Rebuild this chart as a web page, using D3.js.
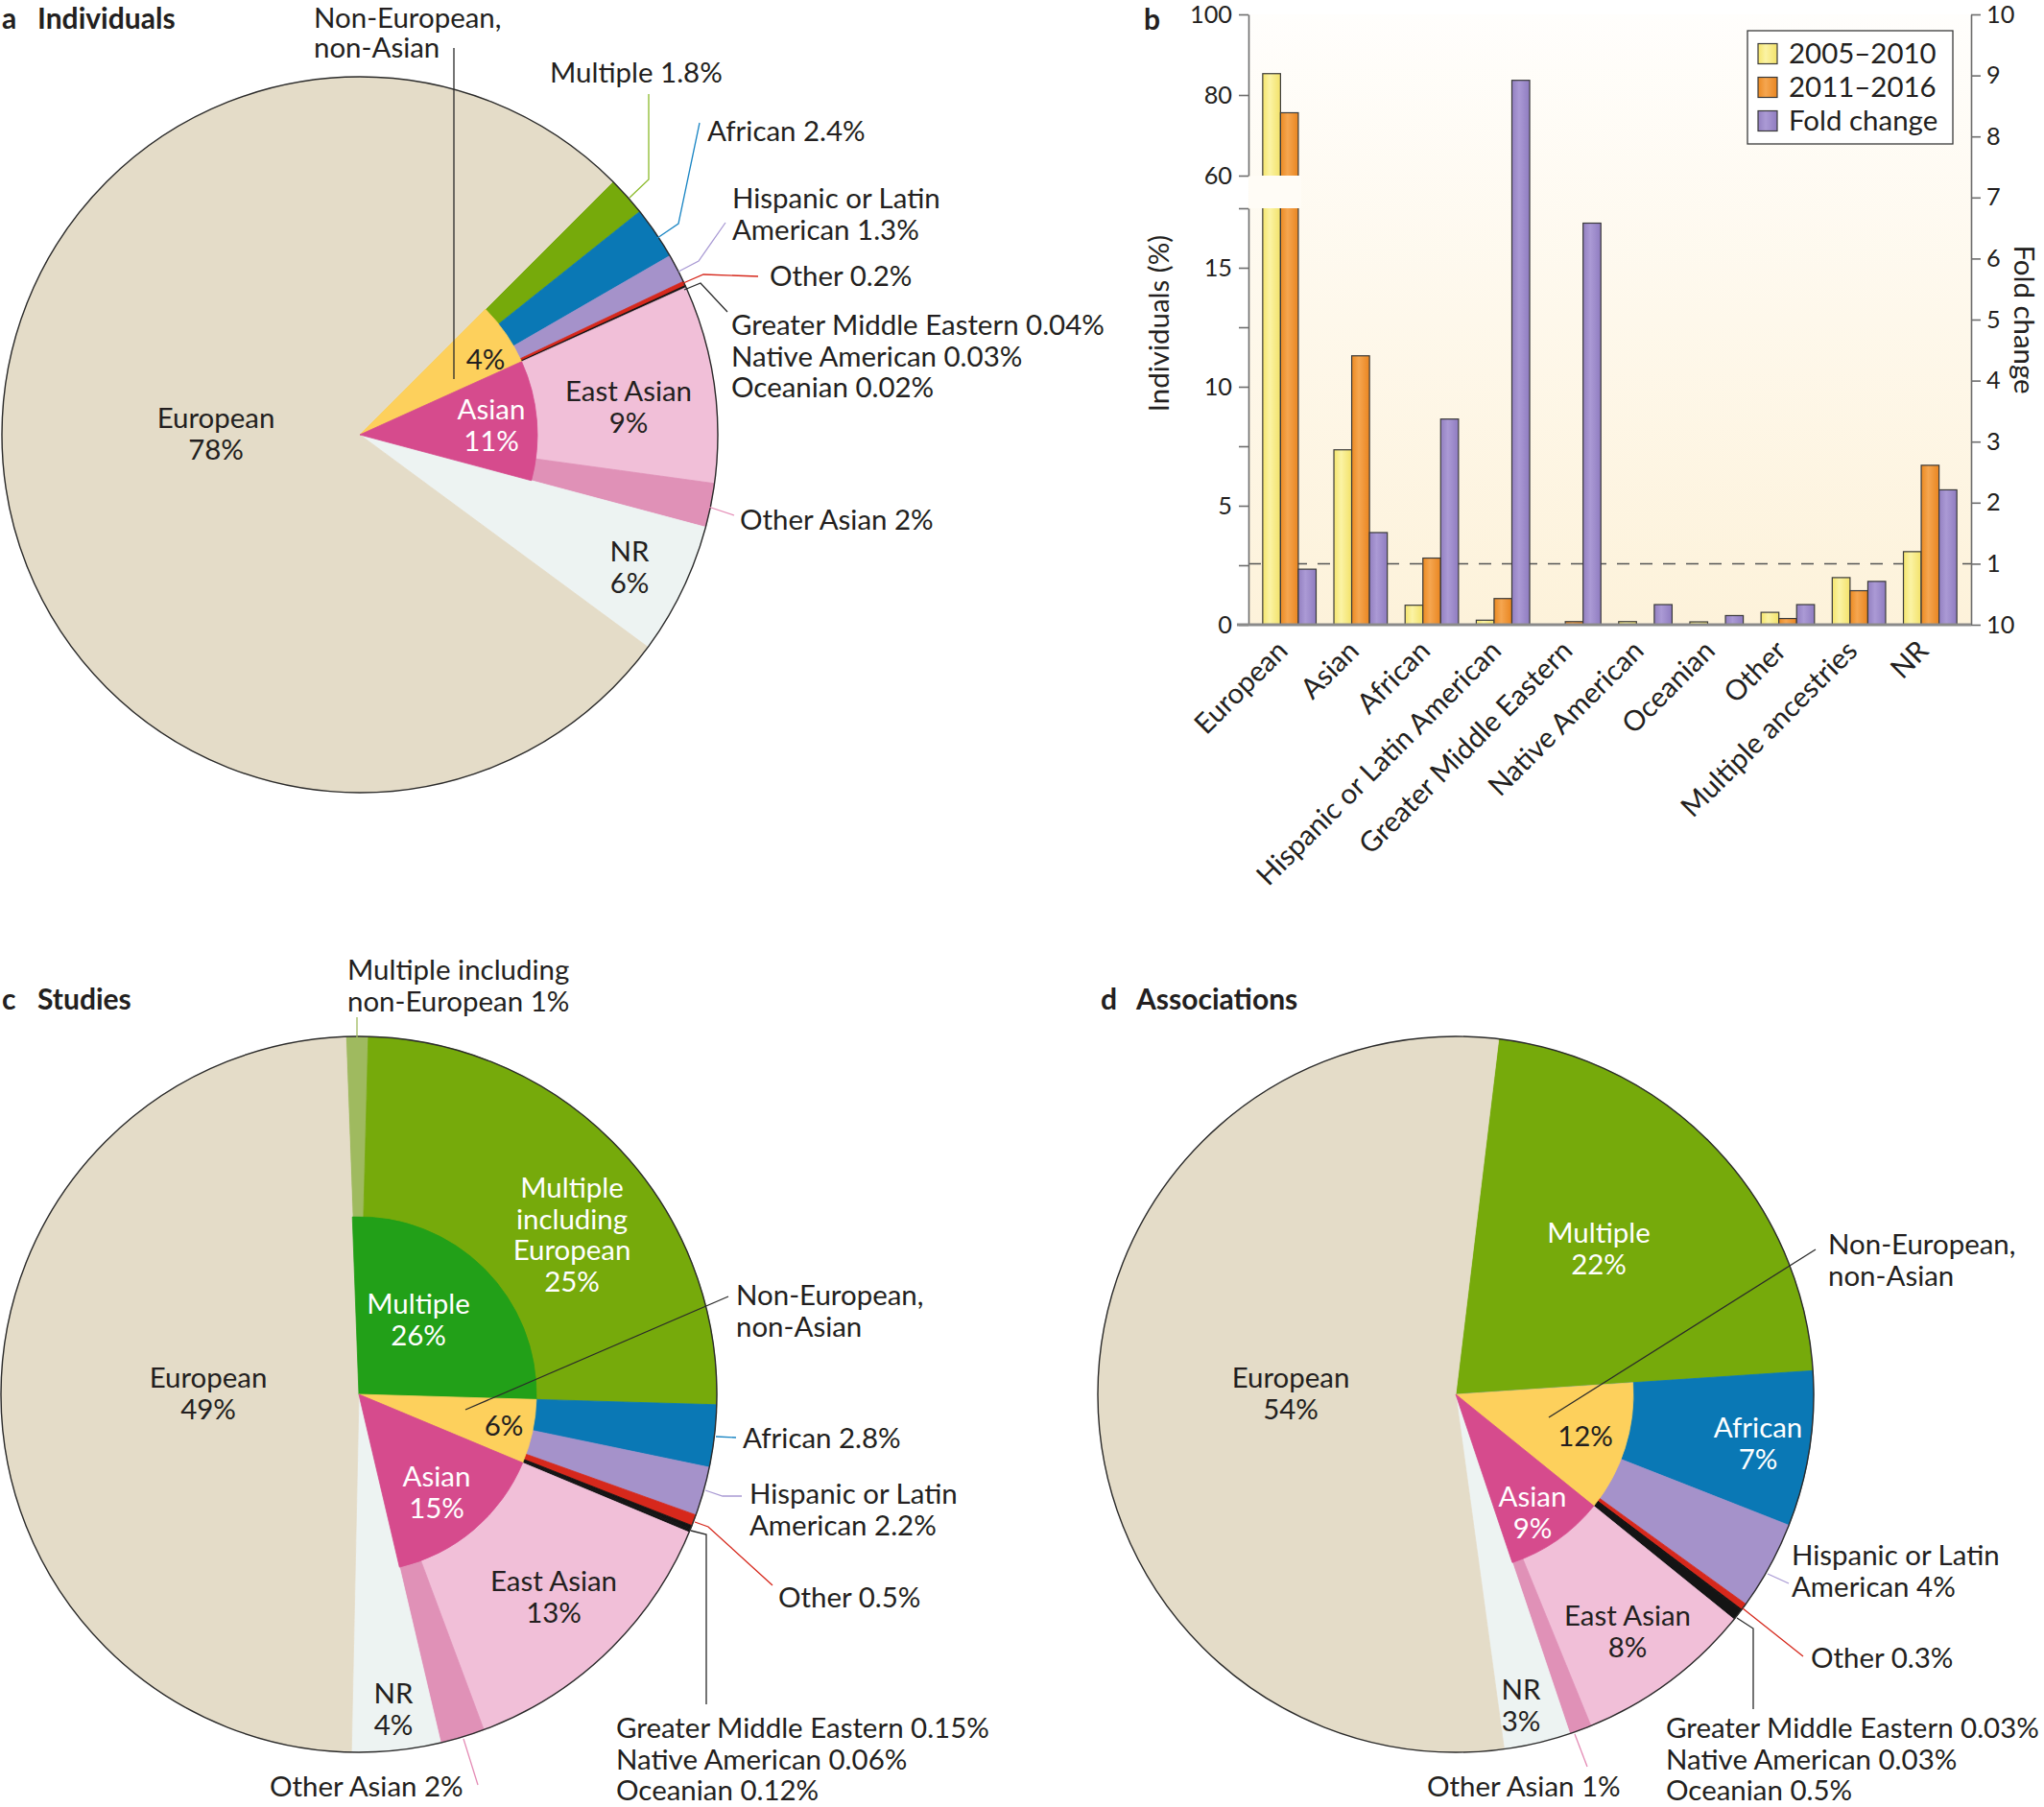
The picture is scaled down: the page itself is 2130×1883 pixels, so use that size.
<!DOCTYPE html>
<html><head><meta charset="utf-8">
<script src="https://cdn.jsdelivr.net/npm/d3@7"></script>
<style>
body{margin:0;background:#fff}
svg{display:block}
text{font-family:Lato,"Liberation Sans",sans-serif;fill:#231f20}
</style>
</head><body>
<svg id="chart" width="2130" height="1883"></svg>
<script>
// ======================= DATA =======================
// Panel b : individuals (%) by ancestry and fold change
const barCategories = ["European","Asian","African","Hispanic or Latin American","Greater Middle Eastern","Native American","Oceanian","Other","Multiple ancestries","NR"];
const individuals20052010 = [85.3, 7.35, 0.82, 0.19, 0, 0.13, 0.12, 0.52, 1.98, 3.07];
const individuals20112016 = [75.6, 11.3, 2.8, 1.1, 0.13, 0, 0, 0.26, 1.43, 6.7];
const foldChange = [0.91, 1.51, 3.37, 8.92, 6.58, 0.33, 0.15, 0.33, 0.71, 2.21];
const leftTicksLow = [0, 2.5, 5, 7.5, 10, 12.5, 15, 17.5];
const leftTickLabelsLow = ["0","","5","","10","","15",""];
const leftTicksHigh = [60, 80, 100];
const leftTickLabelsHigh = ["60","80","100"];
const rightTicks = [0,1,2,3,4,5,6,7,8,9,10];
const rightTickLabels = ["10","1","2","3","4","5","6","7","8","9","10"];
const legendLabels = ["2005–2010","2011–2016","Fold change"];

// Panel a : Individuals
const pieANames  = ["Multiple","African","Hispanic or Latin American","Other","Greater Middle Eastern","Native American","Oceanian","East Asian","Other Asian","NR","European"];
const pieAValues = [1.8, 2.4, 1.3, 0.2, 0.04, 0.03, 0.02, 9, 2, 6, 78];
const pieAGroups = ["NENA","NENA","NENA","NENA","NENA","NENA","NENA","Asian","Asian","",""];

// Panel c : Studies
const pieCNames  = ["Multiple including non-European","Multiple including European","African","Hispanic or Latin American","Other","Greater Middle Eastern","Native American","Oceanian","East Asian","Other Asian","NR","European"];
const pieCValues = [1, 25, 2.8, 2.2, 0.5, 0.15, 0.06, 0.12, 13, 2, 4, 49];
const pieCGroups = ["Multiple","Multiple","NENA","NENA","NENA","NENA","NENA","NENA","Asian","Asian","",""];

// Panel d : Associations
const pieDNames  = ["Multiple","African","Hispanic or Latin American","Other","Greater Middle Eastern","Native American","Oceanian","East Asian","Other Asian","NR","European"];
const pieDValues = [22, 7, 4, 0.3, 0.03, 0.03, 0.5, 8, 1, 3, 54];
const pieDGroups = ["","NENA","NENA","NENA","NENA","NENA","NENA","Asian","Asian","",""];

// ======================= STYLE =======================
const sliceColor = {
  "European":"#e4dcc8",
  "Multiple":"#76aa0b",
  "Multiple including European":"#76aa0b",
  "Multiple including non-European":"#9fba5f",
  "African":"#0a78b5",
  "Hispanic or Latin American":"#a592ca",
  "Other":"#d6281c",
  "Greater Middle Eastern":"#141414",
  "Native American":"#141414",
  "Oceanian":"#141414",
  "East Asian":"#f1bfd8",
  "Other Asian":"#e091b7",
  "NR":"#edf3f2"
};
const groupColor = {"NENA":"#fdd05c","Asian":"#d64b8d","Multiple":"#22a018"};
const lineCol = {green:"#8cbb2c", olive:"#9fba5f", blue:"#1b86c4", lav:"#a99ad4", red:"#d6281c", black:"#2a2a2a", pink:"#e48bb5"};

const svg = d3.select("#chart");
const defs = svg.append("defs");

// calibrate font size on a reference label width
const probe = svg.append("text").style("font-size","29px").text("Greater Middle Eastern 0.04%");
const probeW = probe.node().getComputedTextLength();
probe.remove();
const FS = Math.max(24, Math.min(34, 29 * 389 / probeW));
const LH = 32.5;

function addText(x, y, lines, opt={}) {
  const t = svg.append("text")
    .attr("x", x).attr("y", y)
    .attr("text-anchor", opt.anchor || "start")
    .style("font-size", (opt.size || FS) + "px")
    .style("font-weight", opt.weight || "normal")
    .style("fill", opt.fill || "#231f20");
  lines.forEach((l,i)=> t.append("tspan").attr("x", x).attr("dy", i===0?0:(opt.lh||LH)).text(l));
  return t;
}
function addLeader(points, color, w) {
  svg.append("path").attr("d", d3.line()(points)).attr("fill","none")
    .attr("stroke", color).attr("stroke-width", w||1.3);
}

// ======================= PIES =======================
const R = 373, RIN = 185;
function drawPie(cx, cy, names, values, groups, startDeg) {
  const s = startDeg * Math.PI/180;
  const pie = d3.pie().sort(null).value(d=>d.v).startAngle(s).endAngle(s + 2*Math.PI);
  const arcs = pie(names.map((n,i)=>({n, v:values[i], g:groups[i]})));
  const g = svg.append("g").attr("transform", `translate(${cx},${cy})`);
  const outer = d3.arc().innerRadius(0).outerRadius(R);
  g.selectAll("path.slice").data(arcs).join("path").attr("class","slice")
    .attr("d", outer)
    .attr("fill", d=>sliceColor[d.data.n])
    .attr("stroke", d=>sliceColor[d.data.n]).attr("stroke-width", 0.8)
    .attr("stroke-linejoin","round");
  const keys = [...new Set(groups.filter(k=>k))];
  const inner = d3.arc().innerRadius(0).outerRadius(RIN);
  keys.forEach(k=>{
    const sub = arcs.filter(a=>a.data.g===k);
    const a0 = d3.min(sub, a=>a.startAngle), a1 = d3.max(sub, a=>a.endAngle);
    g.append("path").attr("d", inner({startAngle:a0, endAngle:a1}))
      .attr("fill", groupColor[k]).attr("stroke", groupColor[k]).attr("stroke-width",0.8);
  });
  g.append("circle").attr("r", R).attr("fill","none").attr("stroke","#2b2b2b").attr("stroke-width",1.4);
}

// Panel a
drawPie(375, 453, pieANames, pieAValues, pieAGroups, 45);
// Panel c
drawPie(374, 1453, pieCNames, pieCValues, pieCGroups, -2.1);
// Panel d
drawPie(1517, 1453, pieDNames, pieDValues, pieDGroups, 6.9);

// ---- panel titles
function title(x, y, letter, word) {
  addText(x, y, [letter], {weight:"bold", size:FS*1.02});
  if (word) addText(x + 37, y, [word], {weight:"bold", size:FS*1.02});
}
title(2, 30, "a", "Individuals");
title(1192, 31, "b", null);
title(2, 1052, "c", "Studies");
title(1147, 1052, "d", "Associations");

// ---- panel a labels
const W = "#ffffff";
addText(225, 446, ["European","78%"], {anchor:"middle"});
addText(506, 385, ["4%"], {anchor:"middle"});
addText(512, 437, ["Asian","11%"], {anchor:"middle", fill:W});
addText(655, 418, ["East Asian","9%"], {anchor:"middle"});
addText(656, 585, ["NR","6%"], {anchor:"middle"});
addText(327, 29, ["Non-European,","non-Asian"], {lh:31});
addText(573, 86, ["Multiple 1.8%"]);
addText(737, 147, ["African 2.4%"]);
addText(763, 217, ["Hispanic or Latin","American 1.3%"]);
addText(802, 298, ["Other 0.2%"]);
addText(762, 349, ["Greater Middle Eastern 0.04%","Native American 0.03%","Oceanian 0.02%"]);
addText(771, 552, ["Other Asian 2%"]);
addLeader([[473,50],[473,395]], lineCol.black);
addLeader([[676,98],[676,187],[656,206]], lineCol.green);
addLeader([[729,128],[707,233],[685,248]], lineCol.blue);
addLeader([[756,232],[728,272],[707,283]], lineCol.lav);
addLeader([[790,288],[733,286],[712,295]], lineCol.red);
addLeader([[758,325],[730,295],[713,302]], lineCol.black);
addLeader([[765,537],[738,528]], lineCol.pink);

// ---- panel c labels
addText(596, 1248, ["Multiple","including","European","25%"], {anchor:"middle", fill:W});
addText(436, 1369, ["Multiple","26%"], {anchor:"middle", fill:W});
addText(217, 1446, ["European","49%"], {anchor:"middle"});
addText(525, 1496, ["6%"], {anchor:"middle"});
addText(455, 1549, ["Asian","15%"], {anchor:"middle", fill:W});
addText(577, 1658, ["East Asian","13%"], {anchor:"middle"});
addText(410, 1775, ["NR","4%"], {anchor:"middle"});
addText(362, 1021, ["Multiple including","non-European 1%"]);
addText(767, 1360, ["Non-European,","non-Asian"]);
addText(774, 1509, ["African 2.8%"]);
addText(781, 1567, ["Hispanic or Latin","American 2.2%"]);
addText(811, 1675, ["Other 0.5%"]);
addText(642, 1811, ["Greater Middle Eastern 0.15%","Native American 0.06%","Oceanian 0.12%"]);
addText(281, 1872, ["Other Asian 2%"]);
addLeader([[372,1060],[372,1081]], lineCol.olive);
addLeader([[759,1351],[485,1469]], lineCol.black);
addLeader([[746,1497],[767,1498]], lineCol.blue);
addLeader([[735,1553],[753,1559],[773,1559]], lineCol.lav);
addLeader([[724,1586],[738,1591],[805,1652]], lineCol.red);
addLeader([[720,1595],[736,1599],[736,1776]], lineCol.black);
addLeader([[483,1812],[498,1860]], lineCol.pink);

// ---- panel d labels
addText(1666, 1295, ["Multiple","22%"], {anchor:"middle", fill:W});
addText(1345, 1446, ["European","54%"], {anchor:"middle"});
addText(1652, 1507, ["12%"], {anchor:"middle"});
addText(1832, 1498, ["African","7%"], {anchor:"middle", fill:W});
addText(1597, 1570, ["Asian","9%"], {anchor:"middle", fill:W});
addText(1696, 1694, ["East Asian","8%"], {anchor:"middle"});
addText(1585, 1771, ["NR","3%"], {anchor:"middle"});
addText(1905, 1307, ["Non-European,","non-Asian"]);
addText(1867, 1631, ["Hispanic or Latin","American 4%"]);
addText(1887, 1738, ["Other 0.3%"]);
addText(1736, 1811, ["Greater Middle Eastern 0.03%","Native American 0.03%","Oceanian 0.5%"]);
addText(1487, 1872, ["Other Asian 1%"]);
addLeader([[1892,1302],[1614,1477]], lineCol.black);
addLeader([[1864,1650],[1842,1640]], lineCol.lav);
addLeader([[1879,1726],[1816,1676]], lineCol.red);
addLeader([[1810,1686],[1827,1697],[1827,1781]], lineCol.black);
addLeader([[1654,1841],[1641,1807]], lineCol.pink);

// ======================= BAR CHART (b) =======================
const PX0 = 1301, PX1 = 2054, PY0 = 15, PY1 = 651;
const x0 = d3.scaleBand().domain(barCategories).range([PX0, PX1]).paddingInner(0.25).paddingOuter(0.2);
const seriesKeys = ["p1","p2","fold"];
const x1 = d3.scaleBand().domain(seriesKeys).range([0, x0.bandwidth()]);
const yLow = d3.scaleLinear().domain([0, 17.5]).range([PY1, 217]);
const yHigh = d3.scaleLinear().domain([60, 100]).range([183, PY0]);
const yLeft = v => v <= 17.5 ? yLow(v) : yHigh(v);
const yRight = d3.scaleLinear().domain([0, 10]).range([PY1, PY0]);

// gradients
const bg = defs.append("linearGradient").attr("id","bg").attr("x1",0).attr("y1",0).attr("x2",0).attr("y2",1);
bg.append("stop").attr("offset","0%").attr("stop-color","#fffefc");
bg.append("stop").attr("offset","100%").attr("stop-color","#fdf2da");
function hGrad(id, c0, c1, c2) {
  const gr = defs.append("linearGradient").attr("id", id).attr("x1",0).attr("y1",0).attr("x2",1).attr("y2",0);
  gr.append("stop").attr("offset","0%").attr("stop-color",c0);
  gr.append("stop").attr("offset","40%").attr("stop-color",c1);
  gr.append("stop").attr("offset","100%").attr("stop-color",c2);
}
hGrad("gY", "#f5e56c", "#fbf3a4", "#f3e26a");
hGrad("gO", "#ec8a22", "#f5a650", "#e98520");
hGrad("gP", "#9380c1", "#ab9ad5", "#8f7cc0");
const fills = {p1:"url(#gY)", p2:"url(#gO)", fold:"url(#gP)"};

svg.append("rect").attr("x",PX0).attr("y",PY0).attr("width",PX1-PX0).attr("height",PY1-PY0).attr("fill","url(#bg)");

// dashed reference at fold change = 1
svg.append("line").attr("x1",PX0).attr("x2",PX1).attr("y1",yRight(1)).attr("y2",yRight(1))
  .attr("stroke","#555").attr("stroke-width",1.5).attr("stroke-dasharray","13,11");

const barRows = barCategories.map((c,i)=>({c, p1:individuals20052010[i], p2:individuals20112016[i], fold:foldChange[i]}));
const barG = svg.append("g");
barRows.forEach(r=>{
  seriesKeys.forEach(k=>{
    const v = r[k];
    if (!(v > 0)) return;
    const yTop = k==="fold" ? yRight(v) : yLeft(v);
    barG.append("rect")
      .attr("x", x0(r.c) + x1(k)).attr("width", x1.bandwidth())
      .attr("y", yTop).attr("height", PY1 - yTop)
      .attr("fill", fills[k]).attr("stroke","#3a3a3a").attr("stroke-width",1.2);
  });
});

// axis break band
const eu = barCategories[0];
svg.append("rect").attr("x", PX0+1).attr("y", yHigh(60))
  .attr("width", x0(eu) + x1("p2") + x1.bandwidth() + 2 - PX0)
  .attr("height", yLow(17.5) - yHigh(60)).attr("fill","#fffcf6");

function styleAxis(g) {
  g.selectAll("path.domain").attr("stroke","#6d6d6d").attr("stroke-width",1.6);
  g.selectAll(".tick line").attr("stroke","#6d6d6d").attr("stroke-width",1.6);
  g.selectAll(".tick text").style("font-size",(FS*0.86)+"px").style("font-family","Lato, 'Liberation Sans', sans-serif").attr("fill","#231f20");
}
const axL1 = svg.append("g").attr("transform",`translate(${PX0},0)`)
  .call(d3.axisLeft(yLow).tickValues(leftTicksLow).tickFormat((d,i)=>leftTickLabelsLow[i]).tickSize(10).tickSizeOuter(0).tickPadding(7));
styleAxis(axL1);
const axL2 = svg.append("g").attr("transform",`translate(${PX0},0)`)
  .call(d3.axisLeft(yHigh).tickValues(leftTicksHigh).tickFormat((d,i)=>leftTickLabelsHigh[i]).tickSize(10).tickSizeOuter(0).tickPadding(7));
styleAxis(axL2);
const axR = svg.append("g").attr("transform",`translate(${PX1},0)`)
  .call(d3.axisRight(yRight).tickValues(rightTicks).tickFormat((d,i)=>rightTickLabels[i]).tickSize(10).tickSizeOuter(0).tickPadding(6));
styleAxis(axR);

// baseline
svg.append("line").attr("x1",PX0-12).attr("x2",PX1).attr("y1",PY1).attr("y2",PY1)
  .attr("stroke","#8a8a8a").attr("stroke-width",3);

// axis titles
svg.append("text").attr("transform",`translate(1218,337) rotate(-90)`).attr("text-anchor","middle")
  .style("font-size",FS+"px").text("Individuals (%)");
svg.append("text").attr("transform",`translate(2099,333) rotate(90)`).attr("text-anchor","middle")
  .style("font-size",FS+"px").text("Fold change");

// x labels
barCategories.forEach(c=>{
  svg.append("text")
    .attr("transform",`translate(${x0(c)+x0.bandwidth()/2},${PY1+29}) rotate(-45)`)
    .attr("text-anchor","end").style("font-size",FS+"px").text(c);
});

// legend
const LX = 1821, LY = 32;
svg.append("rect").attr("x",LX).attr("y",LY).attr("width",214).attr("height",118)
  .attr("fill","#fff").attr("stroke","#3a3a3a").attr("stroke-width",1.3);
seriesKeys.forEach((k,i)=>{
  const cy = 56 + i*35;
  svg.append("rect").attr("x",LX+11).attr("y",cy-10.5).attr("width",20).attr("height",21)
    .attr("fill",fills[k]).attr("stroke","#3a3a3a").attr("stroke-width",1.2);
  addText(LX+43, cy+10, [legendLabels[i]]);
});
</script>
</body></html>
